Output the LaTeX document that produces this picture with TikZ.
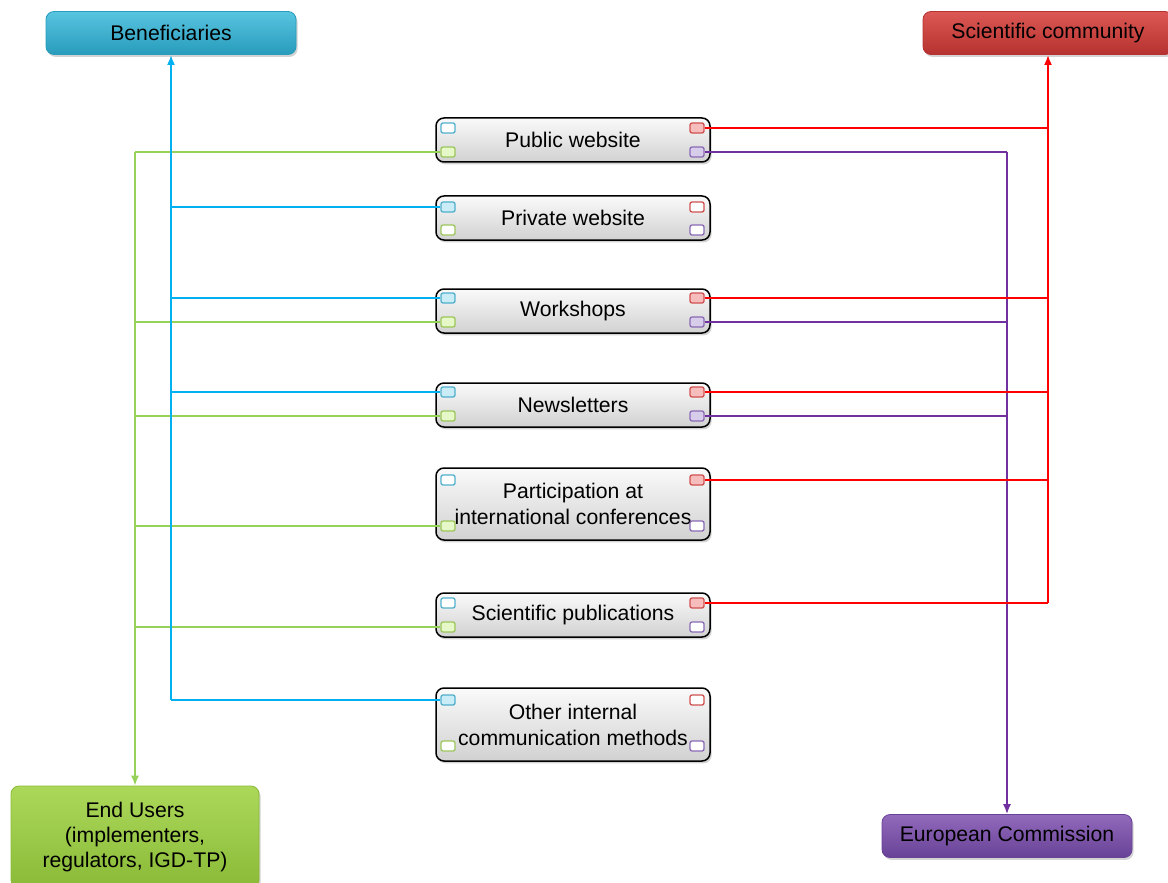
\documentclass[tikz,border=0pt]{standalone}
\usepackage{fontspec}
\setmainfont{Liberation Sans}
\usetikzlibrary{positioning,shadows,arrows.meta}

\definecolor{benefT}{RGB}{88,196,224}
\definecolor{benefB}{RGB}{40,156,188}
\definecolor{commT}{RGB}{220,88,84}
\definecolor{commB}{RGB}{182,50,48}
\definecolor{usersT}{RGB}{172,216,90}
\definecolor{usersB}{RGB}{138,186,56}
\definecolor{ecT}{RGB}{146,106,188}
\definecolor{ecB}{RGB}{104,66,150}
\definecolor{cyanL}{RGB}{0,176,240}
\definecolor{greenL}{RGB}{150,210,90}
\definecolor{redL}{RGB}{255,0,0}
\definecolor{purpleL}{RGB}{112,48,160}
\definecolor{cyanP}{RGB}{80,176,204}
\definecolor{greenP}{RGB}{156,198,90}
\definecolor{redP}{RGB}{208,80,80}
\definecolor{purpleP}{RGB}{138,106,181}
\definecolor{cyanF}{RGB}{201,236,247}
\definecolor{greenF}{RGB}{230,247,200}
\definecolor{redF}{RGB}{247,189,189}
\definecolor{purpleF}{RGB}{216,204,235}

\begin{document}
\begin{tikzpicture}[
    x=0.5pt, y=-0.5pt,
    every node/.style={font=\fontsize{10.6}{13}\selectfont, inner sep=0pt},
    channel/.style={draw=black, line width=0.75pt, rounded corners=4pt,
        top color=gray!4, bottom color=gray!36, minimum width=137pt,
        minimum height=22pt, align=center,
        drop shadow={shadow xshift=0.8pt, shadow yshift=-1.2pt, opacity=0.35}},
    target/.style={rounded corners=4pt, minimum width=125pt,
        minimum height=21.5pt, align=center,
        drop shadow={shadow xshift=0.8pt, shadow yshift=-1.2pt, opacity=0.35}},
    port/.style={draw, line width=0.65pt, rounded corners=1pt,
        minimum width=7pt, minimum height=5pt},
    link/.style={line width=0.65pt},
    trunk/.style={line width=1pt, -{Latex[length=5pt,width=4pt]}}
]
    \useasboundingbox (0,0) rectangle (1168,883);

    % audiences
    \node[target, draw=benefB, top color=benefT, bottom color=benefB] (benef) at (171,33) {Beneficiaries};
    \node[target, draw=commB, top color=commT, bottom color=commB] (comm) at (1048,33) {Scientific community};
    \node[target, draw=ecB, top color=ecT, bottom color=ecB] (ec) at (1007,836) {European Commission};
    \node[target, draw=usersB, top color=usersT, bottom color=usersB, minimum width=124pt, minimum height=51pt,
        font=\fontsize{10.6}{12.5}\selectfont] (users) at (135,837) {End Users\\(implementers,\\regulators, IGD-TP)};

    % channels
    \node[channel] (pub) at (573,140) {Public website};
    \node[channel] (priv) at (573,218) {Private website};
    \node[channel] (work) at (573,311) {Workshops};
    \node[channel] (news) at (573,405) {Newsletters};
    \node[channel, minimum height=36pt] (conf) at (573,504) {Participation at\\international conferences};
    \node[channel] (sci) at (573,615) {Scientific publications};
    \node[channel, minimum height=36.5pt] (other) at (573,724.5) {Other internal\\communication methods};

    % ports
    \foreach \n/\yt/\yb/\fb/\fg/\fr/\fp in {
        pub/128/152/white/greenF/redF/purpleF,
        priv/207/230/cyanF/white/white/white,
        work/298/322/cyanF/greenF/redF/purpleF,
        news/392/416/cyanF/greenF/redF/purpleF,
        conf/480/526/white/greenF/redF/white,
        sci/603/627/white/greenF/redF/white,
        other/700/746/cyanF/white/white/white}
    {
        \node[port, draw=cyanP, fill=\fb] (\n-b) at (448,\yt) {};
        \node[port, draw=greenP, fill=\fg] (\n-g) at (448,\yb) {};
        \node[port, draw=redP, fill=\fr] (\n-r) at (697,\yt) {};
        \node[port, draw=purpleP, fill=\fp] (\n-p) at (697,\yb) {};
    }

    % end users
    \foreach \n in {pub,work,news,conf,sci}
        \draw[link, greenL] (\n-g.west) -- (\n-g.west -| users.north);
    \draw[trunk, greenL, line width=0.8pt] (pub-g.west -| users.north) -- (users.north);

    % beneficiaries
    \foreach \n in {priv,work,news,other}
        \draw[link, cyanL] (\n-b.west) -- (\n-b.west -| benef.south);
    \draw[trunk, cyanL] (other-b.west -| benef.south) -- (benef.south);

    % european commission
    \foreach \n in {pub,work,news}
        \draw[link, purpleL] (\n-p.east) -- (\n-p.east -| ec.north);
    \draw[trunk, purpleL, line width=0.8pt] (pub-p.east -| ec.north) -- (ec.north);

    % scientific community
    \foreach \n in {pub,work,news,conf,sci}
        \draw[link, redL] (\n-r.east) -- (\n-r.east -| comm.south);
    \draw[trunk, redL] (sci-r.east -| comm.south) -- (comm.south);
\end{tikzpicture}
\end{document}
